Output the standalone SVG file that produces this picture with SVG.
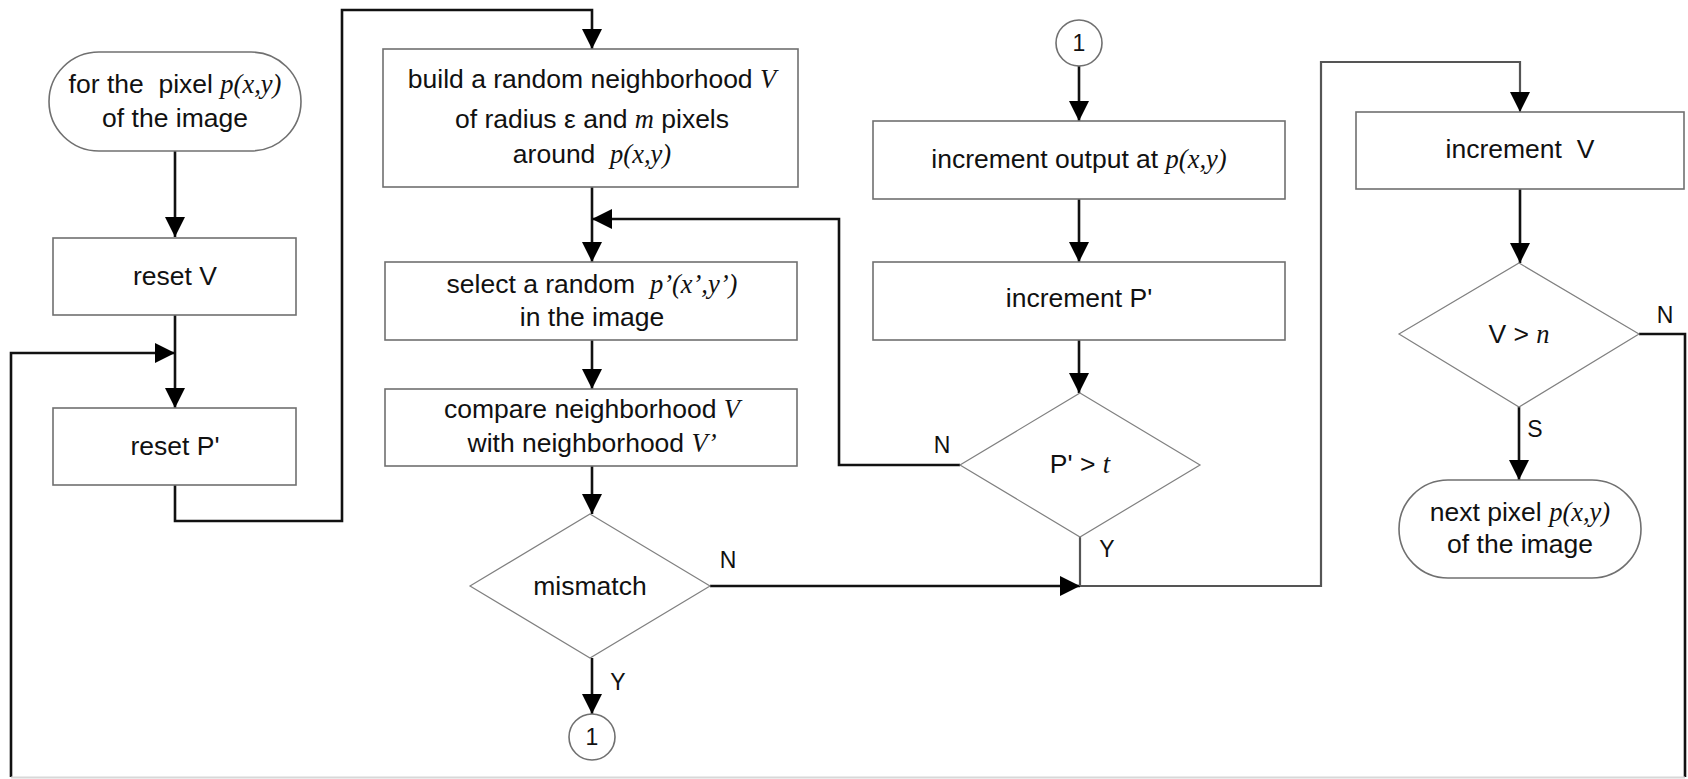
<svg xmlns="http://www.w3.org/2000/svg" width="1688" height="779" viewBox="0 0 1688 779">
<style>
.box{fill:#fff;stroke:#707070;stroke-width:1.6}
.dia{fill:#fff;stroke:#808080;stroke-width:1.2}
.t{font-family:"Liberation Sans",Arial,sans-serif;font-size:26.5px;fill:#111;text-anchor:middle;white-space:pre}
.m{font-family:"Liberation Serif","Times New Roman",serif;font-style:italic}
.lb{font-family:"Liberation Sans",Arial,sans-serif;font-size:23px;fill:#111;text-anchor:middle}
.c{fill:none;stroke:#111;stroke-width:2.6}
.cg{fill:none;stroke:#555;stroke-width:2.2}
</style>
<defs>
<marker id="ah" viewBox="0 0 20 20" refX="20" refY="10" markerWidth="20" markerHeight="20" markerUnits="userSpaceOnUse" orient="auto">
<path d="M0,0 L20,10 L0,20 z" fill="#000"/>
</marker>
</defs>
<rect width="1688" height="779" fill="#fff"/>

<g id="connectors">
<path class="c" d="M175,151 V237" marker-end="url(#ah)"/>
<path class="c" d="M175,315 V408" marker-end="url(#ah)"/>
<path class="c" d="M11,777 V353 H175" marker-end="url(#ah)"/>
<path class="c" d="M175,485 V521 H342 V10 H592 V49" marker-end="url(#ah)"/>
<path class="c" d="M592,187 V262" marker-end="url(#ah)"/>
<path class="c" d="M592,340 V389" marker-end="url(#ah)"/>
<path class="c" d="M592,466 V514" marker-end="url(#ah)"/>
<path class="c" d="M592,658 V714" marker-end="url(#ah)"/>
<path class="c" d="M710,586 H1080" marker-end="url(#ah)"/>
<path class="c" d="M1079,66 V121" marker-end="url(#ah)"/>
<path class="c" d="M1079,199 V262" marker-end="url(#ah)"/>
<path class="c" d="M1079,340 V393" marker-end="url(#ah)"/>
<path class="c" d="M960,465 H839 V219 H592" marker-end="url(#ah)"/>
<path class="cg" d="M1080,537 V586"/>
<path class="cg" d="M1080,586 H1321 V62 H1520 V112" marker-end="url(#ah)"/>
<path class="c" d="M1520,189 V263" marker-end="url(#ah)"/>
<path class="c" d="M1519,407 V480" marker-end="url(#ah)"/>
<path class="c" d="M1639,334 H1685 V777"/>
<path d="M11,777.5 H1685" stroke="#d8d8d8" stroke-width="2" fill="none"/>
</g>

<g id="start">
<rect class="box" x="49" y="52" width="252" height="99" rx="50" ry="50"/>
<text class="t" x="175" y="93" xml:space="preserve">for the  pixel <tspan class="m">p(x,y)</tspan></text>
<text class="t" x="175" y="127">of the image</text>
</g>

<g id="resetV">
<rect class="box" x="53" y="238" width="243" height="77"/>
<text class="t" x="175" y="285">reset V</text>
</g>

<g id="resetP">
<rect class="box" x="53" y="408" width="243" height="77"/>
<text class="t" x="175" y="455">reset P'</text>
</g>

<g id="build">
<rect class="box" x="383" y="49" width="415" height="138"/>
<text class="t" x="592" y="88" xml:space="preserve">build a random neighborhood <tspan class="m">V</tspan></text>
<text class="t" x="592" y="128" xml:space="preserve">of radius ε and <tspan class="m">m</tspan> pixels</text>
<text class="t" x="592" y="163" xml:space="preserve">around  <tspan class="m">p(x,y)</tspan></text>
</g>

<g id="select">
<rect class="box" x="385" y="262" width="412" height="78"/>
<text class="t" x="592" y="293" xml:space="preserve">select a random  <tspan class="m">p’(x’,y’)</tspan></text>
<text class="t" x="592" y="326">in the image</text>
</g>

<g id="compare">
<rect class="box" x="385" y="389" width="412" height="77"/>
<text class="t" x="592" y="418" xml:space="preserve">compare neighborhood <tspan class="m">V</tspan></text>
<text class="t" x="592" y="452" xml:space="preserve">with neighborhood <tspan class="m">V’</tspan></text>
</g>

<g id="mismatch">
<polygon class="dia" points="590,514 710,586 590,658 470,586"/>
<text class="t" x="590" y="595">mismatch</text>
<text class="lb" x="728" y="568">N</text>
<text class="lb" x="618" y="690">Y</text>
</g>

<g id="conn1bottom">
<circle class="box" cx="592" cy="737" r="23"/>
<text class="lb" x="592" y="745">1</text>
</g>

<g id="conn1top">
<circle class="box" cx="1079" cy="43" r="23"/>
<text class="lb" x="1079" y="51">1</text>
</g>

<g id="incOutput">
<rect class="box" x="873" y="121" width="412" height="78"/>
<text class="t" x="1079" y="168" xml:space="preserve">increment output at <tspan class="m">p(x,y)</tspan></text>
</g>

<g id="incP">
<rect class="box" x="873" y="262" width="412" height="78"/>
<text class="t" x="1079" y="307">increment P'</text>
</g>

<g id="ptest">
<polygon class="dia" points="1080,393 1200,465 1080,537 960,465"/>
<text class="t" x="1080" y="473" xml:space="preserve">P' &gt; <tspan class="m">t</tspan></text>
<text class="lb" x="942" y="453">N</text>
<text class="lb" x="1107" y="557">Y</text>
</g>

<g id="incV">
<rect class="box" x="1356" y="112" width="328" height="77"/>
<text class="t" x="1520" y="158" xml:space="preserve">increment  V</text>
</g>

<g id="vtest">
<polygon class="dia" points="1519,263 1639,334 1519,407 1399,334"/>
<text class="t" x="1519" y="343" xml:space="preserve">V &gt; <tspan class="m">n</tspan></text>
<text class="lb" x="1665" y="323">N</text>
<text class="lb" x="1535" y="437">S</text>
</g>

<g id="next">
<rect class="box" x="1399" y="480" width="242" height="98" rx="49" ry="49"/>
<text class="t" x="1520" y="521" xml:space="preserve">next pixel <tspan class="m">p(x,y)</tspan></text>
<text class="t" x="1520" y="553">of the image</text>
</g>
</svg>
